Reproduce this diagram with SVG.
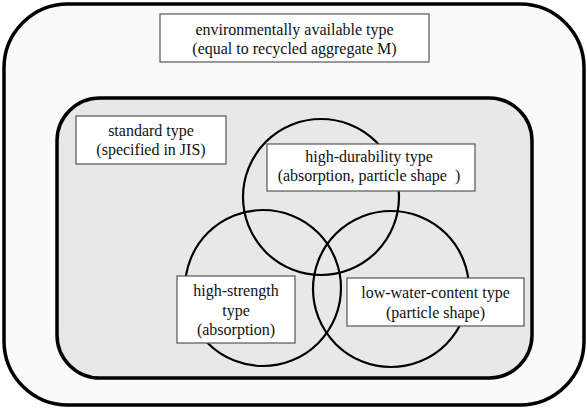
<svg xmlns="http://www.w3.org/2000/svg" width="587" height="409" viewBox="0 0 587 409">
<style>
text{font-family:'Liberation Serif','DejaVu Serif',serif;font-size:16px;fill:#111;text-anchor:middle}
.box{fill:#fff;stroke:#555;stroke-width:1.2}
.circ{fill:none;stroke:#000;stroke-width:2.2}
</style>
<g id="environmentally-available">
<rect x="4" y="4" width="580" height="401" rx="64" ry="64" fill="#fafafa" stroke="#000" stroke-width="3.5"/>
<rect class="box" x="160" y="14" width="269" height="48"/>
<text x="294.5" y="35" font-family="Liberation Serif, serif">environmentally available type</text>
<text x="294.5" y="54" font-family="Liberation Serif, serif">(equal to recycled aggregate M)</text>
</g>
<g id="standard">
<rect x="57" y="98" width="475" height="280" rx="43" ry="43" fill="#e8e8e8" stroke="#000" stroke-width="3.5"/>
<rect class="box" x="76" y="116" width="150" height="48"/>
<text x="151" y="136">standard type</text>
<text x="151" y="155">(specified in JIS)</text>
</g>
<g id="circles">
<circle class="circ" cx="321" cy="197" r="78"/>
<circle class="circ" cx="263" cy="288" r="78"/>
<circle class="circ" cx="391" cy="289" r="78"/>
</g>
<g id="high-durability">
<rect class="box" x="267" y="144" width="208" height="47"/>
<text x="369" y="162">high-durability type</text>
<text x="369" y="181">(absorption, particle shape&#160;&#160;)</text>
</g>
<g id="high-strength">
<rect class="box" x="177" y="276" width="118" height="67"/>
<text x="236" y="296">high-strength</text>
<text x="236" y="316">type</text>
<text x="236" y="335">(absorption)</text>
</g>
<g id="low-water-content">
<rect class="box" x="347" y="278" width="177" height="48"/>
<text x="435.5" y="298">low-water-content type</text>
<text x="435.5" y="318">(particle shape)</text>
</g>
<g id="connectors"/>
</svg>
